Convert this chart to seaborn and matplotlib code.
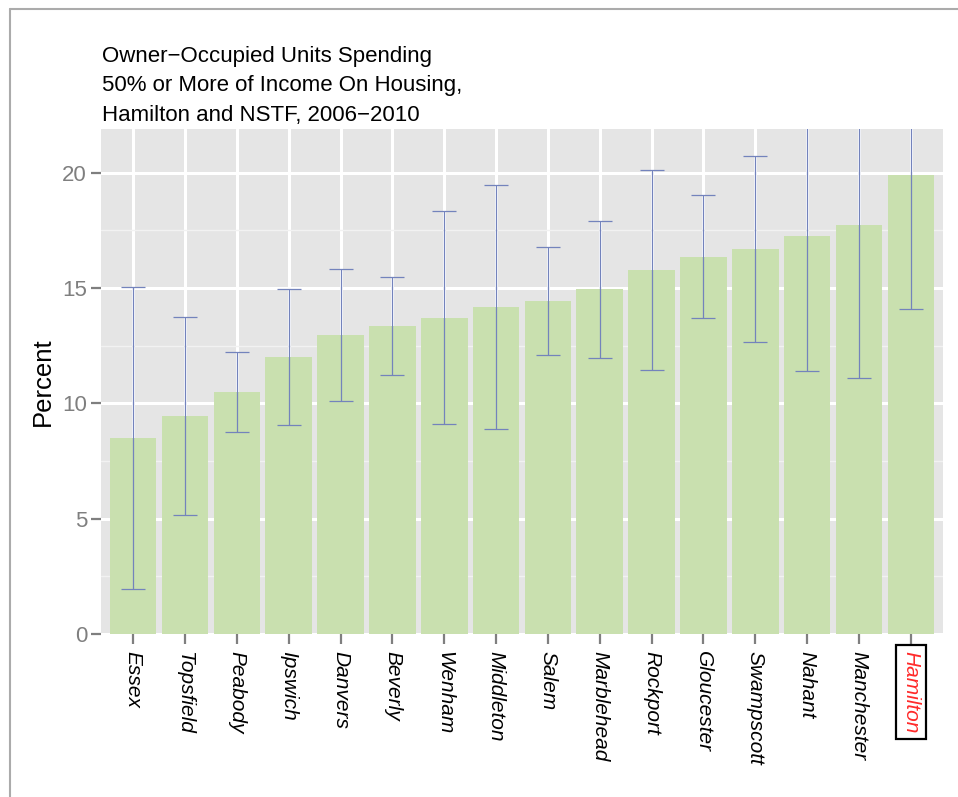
import numpy as np
import pandas as pd
import seaborn as sns
import matplotlib.pyplot as plt
from matplotlib.lines import Line2D
from matplotlib.ticker import MultipleLocator

# Owner-occupied units spending 50%+ of income on housing, 2006-2010
towns = ['Essex', 'Topsfield', 'Peabody', 'Ipswich', 'Danvers', 'Beverly', 'Wenham',
         'Middleton', 'Salem', 'Marblehead', 'Rockport', 'Gloucester', 'Swampscott',
         'Nahant', 'Manchester', 'Hamilton']
pct = [8.5, 9.45, 10.5, 12.0, 12.97, 13.36, 13.72, 14.18, 14.45, 14.95, 15.8, 16.36,
       16.7, 17.28, 17.72, 19.9]
moe = [6.55, 4.28, 1.75, 2.95, 2.85, 2.12, 4.63, 5.27, 2.33, 2.98, 4.34, 2.66,
       4.04, 5.86, 6.62, 5.82]
highlight = 'Hamilton'

df = pd.DataFrame({'town': towns, 'pct': pct, 'moe': moe})

sns.set_style('darkgrid')
plt.rcParams['font.family'] = ['Liberation Sans', 'DejaVu Sans']
plt.rcParams['text.color'] = 'black'
plt.rcParams['axes.labelcolor'] = 'black'

fig = plt.figure(figsize=(9.58, 7.97), dpi=100)
ax = fig.add_axes([101 / 958, 1 - 634 / 797, 842 / 958, 505 / 797])
ax.set_facecolor('#E5E5E5')

sns.barplot(data=df, x='town', y='pct', order=towns, color='#C9E0AF', saturation=1,
            width=0.9, errorbar=None, ax=ax, zorder=2)
for p in ax.patches:
    p.set_edgecolor('none')

pos = np.arange(len(towns))
ax.errorbar(pos, df['pct'], yerr=df['moe'], fmt='none', ecolor='#7383BC',
            elinewidth=0.9, capsize=8.5, capthick=0.9, zorder=3)

ax.set_xlim(-0.62, len(towns) - 1 + 0.62)
ax.set_ylim(0, 21.9)
ax.yaxis.set_major_locator(MultipleLocator(5))
ax.yaxis.set_minor_locator(MultipleLocator(2.5))
ax.grid(which='major', color='white', linewidth=2.2, zorder=0)
ax.grid(which='minor', axis='y', color='#F2F2F2', linewidth=1.0, zorder=0)
ax.set_axisbelow(True)
for s in ax.spines.values():
    s.set_visible(False)

ax.tick_params(axis='both', which='major', length=7, width=1.6, color='#7F7F7F',
               direction='out', bottom=True, left=True)
ax.tick_params(axis='y', which='minor', length=0)
ax.tick_params(axis='y', labelsize=16, labelcolor='#7F7F7F', pad=3)
ax.tick_params(axis='x', pad=5, labelcolor='black')

ax.set_xticks(pos)
ax.set_xticklabels(towns, rotation=-90, fontsize=15, style='italic',
                   ha='center', va='top')
for lab in ax.get_xticklabels():
    if lab.get_text() == highlight:
        lab.set_color('#FF2A2A')
        lab.set_bbox(dict(facecolor='white', edgecolor='black', linewidth=1.6, pad=4))

ax.set_xlabel('')
ax.set_ylabel('Percent', fontsize=18.5, labelpad=5)

title_lines = ['Owner\u2212Occupied Units Spending',
               '50% or More of Income On Housing,',
               'Hamilton and NSTF, 2006\u22122010']
for i, line in enumerate(title_lines):
    fig.text(102 / 958, 1 - (62 + 29.5 * i) / 797, line, fontsize=16,
             ha='left', va='baseline', color='black')

# page frame around the chart
fig.add_artist(Line2D([10 / 958, 1], [1 - 9 / 797, 1 - 9 / 797], color='#ABABAB', lw=1.5))
fig.add_artist(Line2D([10 / 958, 10 / 958], [0, 1 - 9 / 797], color='#ABABAB', lw=1.5))

fig.savefig('out.png', dpi=100)
